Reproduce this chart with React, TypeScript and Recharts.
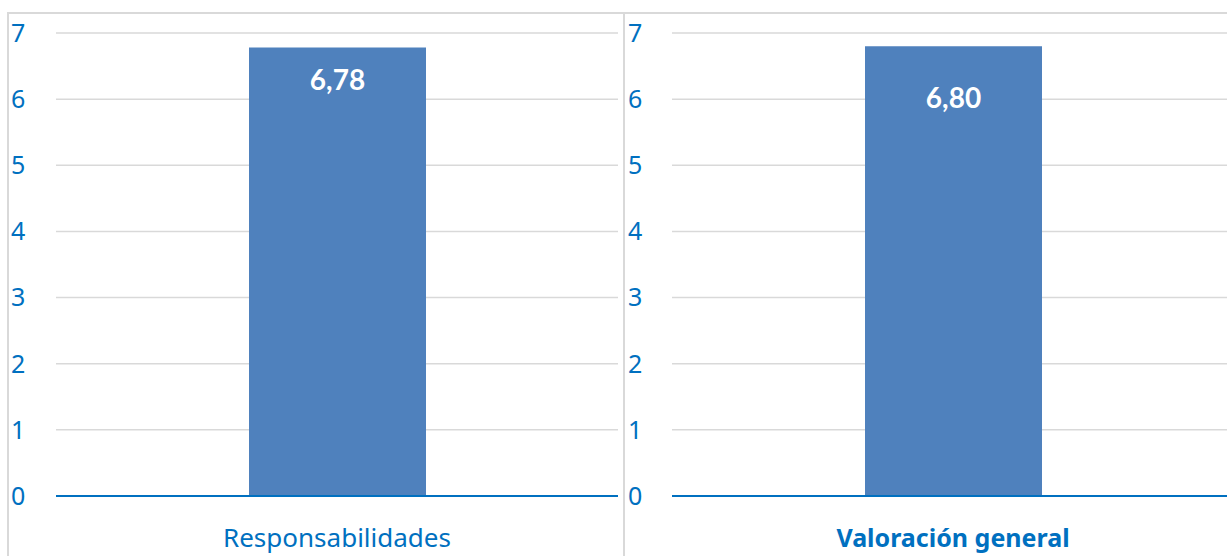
import { BarChart, Bar, XAxis, YAxis, CartesianGrid, LabelList } from "recharts"

const categories = ["Responsabilidades", "Valoración general"]
const values = [6.78, 6.8]
const yTicks = [0, 1, 2, 3, 4, 5, 6, 7]
const boldCategory = [false, true]

const BLUE = "#0070c0"
const BAR = "#4f81bd"
const GRID = "#d9d9d9"
const AXIS_FONT = "'Noto Sans', sans-serif"

const fmt = (v: number) => v.toFixed(2).replace(".", ",")

function Panel({ index, width, labelOffset, tickDx }: { index: number; width: number; labelOffset: number; tickDx: number }) {
  const data = [{ name: categories[index], value: values[index] }]
  return (
    <BarChart width={width} height={556} data={data} margin={{ top: 33, right: 0, bottom: 0, left: 0 }}>
      <CartesianGrid vertical={false} stroke={GRID} strokeWidth={1.5} />
      <XAxis
        dataKey="name"
        height={60}
        tickLine={false}
        axisLine={{ stroke: BLUE, strokeWidth: 2 }}
        tick={(props: any) => (
          <text
            x={props.x}
            y={props.y + 43}
            textAnchor="middle"
            fill={BLUE}
            fontSize={boldCategory[index] ? 25 : 26}
            fontFamily={AXIS_FONT}
            fontWeight={boldCategory[index] ? 700 : 400}
          >
            {props.payload.value}
          </text>
        )}
      />
      <YAxis
        width={48}
        domain={[0, 7]}
        ticks={yTicks}
        tickLine={false}
        axisLine={false}
        interval={0}
        tick={{ fill: BLUE, fontSize: 25, fontFamily: AXIS_FONT, textAnchor: "start", dx: tickDx }}
      />
      <Bar dataKey="value" fill={BAR} barSize={177} isAnimationActive={false}>
        <LabelList
          dataKey="value"
          position="insideTop"
          offset={labelOffset}
          formatter={(v: any) => fmt(Number(v))}
          fill="#ffffff"
          fontSize={28}
          fontWeight={700}
          fontFamily="Lato, sans-serif"
        />
      </Bar>
    </BarChart>
  )
}

export default function App() {
  return (
    <div style={{ position: "absolute", left: 0, top: 0, width: 1227, height: 556, background: "#fff", overflow: "hidden" }}>
      <div style={{ position: "absolute", left: 8, top: 12, width: 1219, height: 2, background: GRID }} />
      <div style={{ position: "absolute", left: 7, top: 12, width: 2, height: 544, background: GRID }} />
      <div style={{ position: "absolute", left: 623, top: 12, width: 2, height: 544, background: GRID }} />
      <div style={{ position: "absolute", left: 8, top: 0 }}>
        <Panel index={0} width={610} labelOffset={23} tickDx={-37} />
      </div>
      <div style={{ position: "absolute", left: 624, top: 0 }}>
        <Panel index={1} width={610} labelOffset={42} tickDx={-36} />
      </div>
    </div>
  )
}
